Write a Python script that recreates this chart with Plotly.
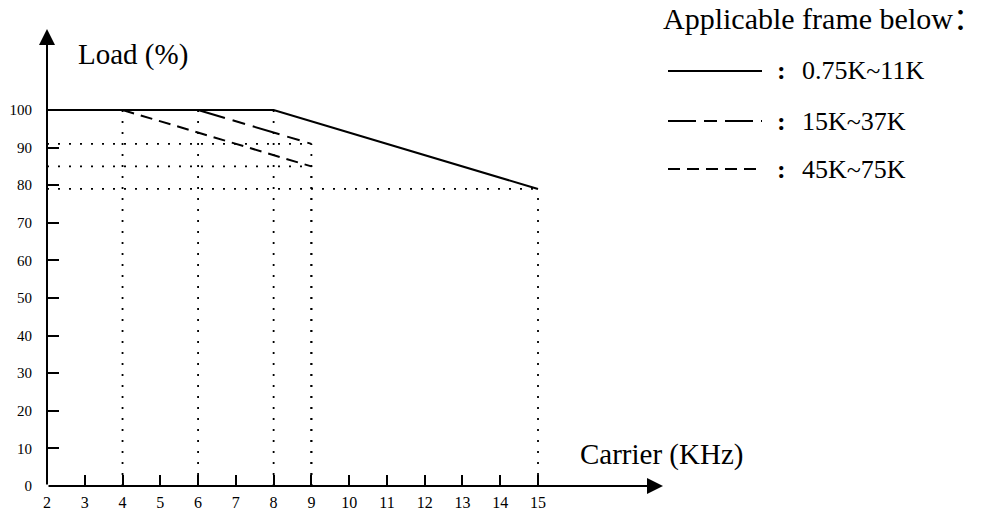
import plotly.graph_objects as go

# ---------------- data ----------------
frame_labels = ["0.75K~11K", "15K~37K", "45K~75K"]
carrier_khz = [[2, 8, 15], [2, 6, 9], [2, 4, 9]]
load_pct = [[100, 100, 79], [100, 100, 91], [100, 100, 85]]
x_ticks = list(range(2, 16))
y_ticks = list(range(0, 101, 10))
x_title = "Carrier (KHz)"
y_title = "Load (%)"
legend_title = "Applicable frame below："

# ---------------- layout geometry ----------------
W, H = 984, 511
ML, MR, MT, MB = 47, 0, 0, 25
PW, PH = W - ML - MR, H - MT - MB
PX_X = 37.77   # pixels per kHz
PX_Y = 3.76    # pixels per %
X_RANGE = [2, 2 + PW / PX_X]
Y_RANGE = [0, PH / PX_Y]

def px(xp):
    return (xp - ML) / PW

def py(yp):
    return (H - MB - yp) / PH

FONT = "Liberation Serif, Times New Roman, serif"
dashes = ["solid", "28px,8px,13px,8px", "12px,7px"]

fig = go.Figure()

# dotted guide lines from breakpoints
gx, gy = [], []
for xs, ys in zip(carrier_khz, load_pct):
    for xv, yv in zip(xs[1:], ys[1:]):
        gx += [xv, xv, None]
        gy += [0, yv, None]
        if yv < 100:
            gx += [xs[0], xv, None]
            gy += [yv, yv, None]
fig.add_trace(go.Scatter(x=gx, y=gy, mode="lines", showlegend=False,
                         line=dict(color="black", width=1.8, dash="2px,9px"),
                         hoverinfo="skip"))

# curves (dashed ones from their knee; solid drawn last, on top)
for i in [2, 1, 0]:
    xs, ys = carrier_khz[i], load_pct[i]
    if i > 0:
        xs, ys = xs[1:], ys[1:]
    fig.add_trace(go.Scatter(x=xs, y=ys, mode="lines", name=frame_labels[i],
                             showlegend=False,
                             line=dict(color="black", width=2, dash=dashes[i])))

annotations = []
# axis arrows
annotations.append(dict(x=2 + (663 - ML) / PX_X, y=0, ax=2, ay=0, xref="x", yref="y",
                        axref="x", ayref="y", text="", showarrow=True, arrowhead=2,
                        arrowsize=1.6, arrowwidth=2, arrowcolor="black"))
annotations.append(dict(x=2, y=(H - MB - 29) / PX_Y, ax=2, ay=0, xref="x", yref="y",
                        axref="x", ayref="y", text="", showarrow=True, arrowhead=2,
                        arrowsize=1.6, arrowwidth=2, arrowcolor="black"))
# axis titles
annotations.append(dict(x=px(76), y=py(55), xref="paper", yref="paper", text=y_title,
                        showarrow=False, xanchor="left", yanchor="middle",
                        font=dict(family=FONT, size=29, color="black")))
annotations.append(dict(x=px(578), y=py(454), xref="paper", yref="paper", text=x_title,
                        showarrow=False, xanchor="left", yanchor="middle",
                        font=dict(family=FONT, size=29, color="black")))
# legend title
annotations.append(dict(x=px(661), y=py(18), xref="paper", yref="paper", text=legend_title,
                        showarrow=False, xanchor="left", yanchor="middle",
                        font=dict(family=FONT + ", Noto Sans CJK SC", size=30, color="black")))

shapes = []
row_y = [71, 121, 169]
for i, lab in enumerate(frame_labels):
    shapes.append(dict(type="line", xref="paper", yref="paper",
                       x0=px(668), x1=px(762), y0=py(row_y[i]), y1=py(row_y[i]),
                       line=dict(color="black", width=2, dash=dashes[i])))
    annotations.append(dict(x=px(781), y=py(row_y[i]), xref="paper", yref="paper", text="<b>:</b>",
                            showarrow=False, xanchor="center", yanchor="middle",
                            font=dict(family=FONT, size=26, color="black")))
    annotations.append(dict(x=px(800), y=py(row_y[i]), xref="paper", yref="paper", text=lab,
                            showarrow=False, xanchor="left", yanchor="middle",
                            font=dict(family=FONT, size=26, color="black")))

fig.update_layout(
    width=W, height=H,
    margin=dict(l=ML, r=MR, t=MT, b=MB, autoexpand=False),
    plot_bgcolor="white", paper_bgcolor="white",
    annotations=annotations, shapes=shapes,
    showlegend=False,
)
fig.update_xaxes(range=X_RANGE, tickvals=x_ticks, ticktext=[str(v) for v in x_ticks],
                 ticks="inside", ticklen=11, tickwidth=2, tickcolor="black",
                 showgrid=False, zeroline=False, showline=False, automargin=False,
                 ticklabelstandoff=5,
                 tickfont=dict(family=FONT, size=16, color="black"))
fig.update_yaxes(range=Y_RANGE, tickvals=y_ticks, ticktext=[str(v) for v in y_ticks],
                 ticks="inside", ticklen=12, tickwidth=2, tickcolor="black",
                 showgrid=False, zeroline=False, showline=False, automargin=False,
                 ticklabelstandoff=14,
                 tickfont=dict(family=FONT, size=15, color="black"))

fig.write_html("out.html", config={"displayModeBar": False},
               post_script="document.body.style.margin='0';document.body.style.overflow='hidden';")
